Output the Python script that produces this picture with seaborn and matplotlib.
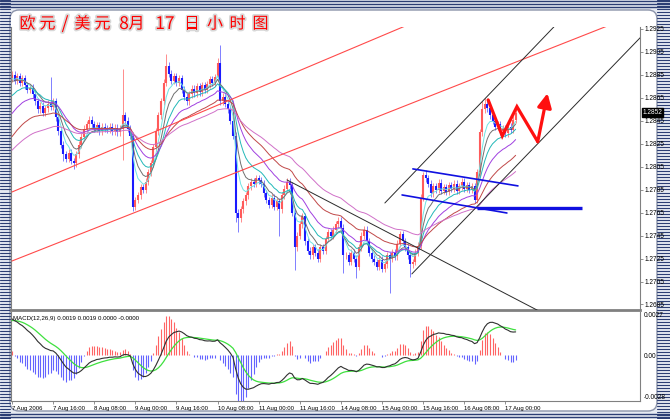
import numpy as np
import pandas as pd
import matplotlib
matplotlib.use("Agg")
import matplotlib.pyplot as plt
import seaborn as sns
from matplotlib.patches import FancyBboxPatch
import matplotlib.patheffects as pe
import matplotlib.transforms as mtrans

# ---------------- data (EUR/USD hourly) ----------------
close = [
    1.2885, 1.2880, 1.2884, 1.2878, 1.2882,
    1.2876, 1.2872, 1.2874, 1.2868,
    1.2862, 1.2855, 1.2858, 1.2852,
    1.2856, 1.2860, 1.2857, 1.2862,
    1.2848, 1.2836, 1.2824, 1.2816,
    1.2812, 1.2817, 1.2810, 1.2808,
    1.2816, 1.2824, 1.2831, 1.2838, 1.2842, 1.2846,
    1.2842, 1.2838, 1.2841, 1.2836, 1.2840, 1.2838,
    1.2837, 1.2840, 1.2836, 1.2839, 1.2835, 1.2838,
    1.2850,
    1.2845, 1.2838, 1.2832,
    1.2770,
    1.2776, 1.2780, 1.2787, 1.2785,
    1.2792, 1.2800, 1.2808,
    1.2822, 1.2836,
    1.2850, 1.2862,
    1.2878, 1.2893,
    1.2886, 1.2880, 1.2884, 1.2878, 1.2882,
    1.2872, 1.2866, 1.2862,
    1.2868, 1.2873, 1.2869, 1.2875, 1.2870, 1.2876, 1.2872,
    1.2877, 1.2881, 1.2878, 1.2883,
    1.2895,
    1.2862,
    1.2866, 1.2860, 1.2855,
    1.2845, 1.2832,
    1.2765,
    1.2760,
    1.2768, 1.2775, 1.2780, 1.2788,
    1.2792, 1.2790, 1.2795, 1.2793,
    1.2790,
    1.2782, 1.2776, 1.2772,
    1.2778, 1.2770, 1.2775, 1.2768,
    1.2780, 1.2786, 1.2792, 1.2789,
    1.2765, 1.2735,
    1.2745, 1.2755, 1.2762,
    1.2740, 1.2732, 1.2728, 1.2735,
    1.2730, 1.2725, 1.2735, 1.2732,
    1.2742, 1.2748, 1.2745, 1.2750,
    1.2755, 1.2758, 1.2752,
    1.2728,
    1.2728, 1.2722, 1.2730, 1.2725, 1.2718,
    1.2735, 1.2745, 1.2750,
    1.2740, 1.2730, 1.2725,
    1.2722, 1.2718, 1.2724, 1.2716, 1.2720,
    1.2728, 1.2725, 1.2730, 1.2727,
    1.2738, 1.2746, 1.2740, 1.2735,
    1.2728, 1.2720, 1.2722,
    1.2730, 1.2736,
    1.2778,
    1.2798, 1.2795,
    1.2790, 1.2782, 1.2788, 1.2785, 1.2791, 1.2784, 1.2787, 1.2783, 1.2789,
    1.2786, 1.2790, 1.2784, 1.2788, 1.2792, 1.2786, 1.2789, 1.2785, 1.2788,
    1.2776,
    1.2800, 1.2835, 1.2855,
    1.2860, 1.2856,
    1.2850, 1.2845, 1.2840, 1.2842, 1.2836,
    1.2838, 1.2834, 1.2840, 1.2837,
    1.2846, 1.2852,
]
first_open = 1.2882
wick = 0.0003
high_spikes = {15: 1.2883, 43: 1.2890, 60: 1.2903, 80: 1.2900, 81: 1.2911,
               160: 1.2800, 161: 1.2802, 183: 1.2862, 184: 1.2865}
low_spikes = {20: 1.2810, 24: 1.2803, 43: 1.2811, 47: 1.2766, 87: 1.2757,
              88: 1.2748, 104: 1.2745, 110: 1.2715, 129: 1.2712, 134: 1.2708,
              147: 1.2695, 155: 1.2709}

# moving-average ribbon: periods, starting values at left edge, colours
ma_periods = [5, 8, 13, 21, 34, 55]
ma_seeds = [1.2880, 1.2878, 1.2864, 1.2848, 1.2828, 1.2817]
ma_colors = ["#6fe3e3", "#707070", "#22b8b8", "#a040e0", "#c04848", "#d070c8"]

# MACD(12,26,9) starting states
macd_fast_seed, macd_slow_seed, macd_signal_seed = 1.2870, 1.2845, 0.0023
hist_scale = 2.4

price_ticks = [1.2685, 1.2705, 1.2725, 1.2745, 1.2765, 1.2785, 1.2805,
               1.2825, 1.2845, 1.2865, 1.2885, 1.2905, 1.2925]
last_price = 1.2852
date_pos = [0, 16, 32, 48, 64, 80, 96, 112, 128, 144, 160, 176, 192]
date_labels = ["7 Aug 2006", "7 Aug 16:00", "8 Aug 08:00", "9 Aug 00:00",
               "9 Aug 16:00", "10 Aug 08:00", "11 Aug 00:00", "11 Aug 16:00",
               "14 Aug 08:00", "15 Aug 00:00", "15 Aug 16:00", "16 Aug 08:00",
               "17 Aug 00:00"]

# drawn objects: anchor points (bar index, price)
red_upper = [(0, 1.27830), (152.1, 1.29267)]
red_lower = [(0, 1.27229), (230.7, 1.29267)]
chan_upper = [(145.1, 1.27734), (210.5, 1.29259)]
chan_lower = [(155.6, 1.27116), (244.4, 1.29172)]
desc_line = [(107.0, 1.27935), (204.3, 1.26802)]
flag_upper = [(156.0, 1.28031), (196.9, 1.27883)]
flag_lower = [(151.8, 1.27804), (192.6, 1.27647)]
support = [(180.9, 1.27691), (221.8, 1.27691)]
zig_i = [185.3, 190.8, 196.5, 204.6, 208.4]
zig_p = [1.28632, 1.28318, 1.28573, 1.28268, 1.28690]

title_parts = ["欧", "元", "/", "美", "元", "8", "月", "17", "日", "小", "时", "图"]
title_x = [27.5, 47.5, 65, 82.5, 102.5, 124, 136.5, 165, 192, 215, 237.5, 260.5]

# ---------------- derived ----------------
n = len(close)
idx = np.arange(n)
c = np.array(close)
o = np.concatenate([[first_open], c[:-1]])
hi = np.maximum(o, c) + wick
lo = np.minimum(o, c) - wick
for k, v in high_spikes.items():
    hi[k] = v
for k, v in low_spikes.items():
    lo[k] = v

def ema(vals, span, seed):
    return pd.Series([seed] + list(vals)).ewm(span=span, adjust=False).mean().values[1:]

mas = [ema(c, p, s) for p, s in zip(ma_periods, ma_seeds)]
macd_line = ema(c, 12, macd_fast_seed) - ema(c, 26, macd_slow_seed)
signal = ema(macd_line, 9, macd_signal_seed)
hist = (macd_line - signal) * hist_scale

# ---------------- figure ----------------
sns.set_theme(style="white")
plt.rcParams["font.family"] = ["Liberation Sans", "DejaVu Sans"]

W, H = 670, 419
fig = plt.figure(figsize=(6.7, 4.19), dpi=100)
fig.patch.set_facecolor("#e6eaf2")

def px_axes(x0, y0, x1, y1):
    return fig.add_axes([x0 / W, 1 - y1 / H, (x1 - x0) / W, (y1 - y0) / H])

bg = fig.add_axes([0, 0, 1, 1])
bg.set_xlim(0, W)
bg.set_ylim(H, 0)
bg.axis("off")
navy = "#2c3e74"
for y in np.arange(0.5, H, 3):
    bg.plot([0, 9.5], [y, y], color=navy, lw=0.8)
    bg.plot([657, W], [y, y], color=navy, lw=0.8)
for y in [1.0, 4.0, 7.0, 413.5, 416.5]:
    bg.plot([0, W], [y, y], color=navy, lw=1.0)
bg.add_patch(FancyBboxPatch((10, 10), 647, 401,
                            boxstyle="round,pad=0,rounding_size=9",
                            fc="white", ec="#8c94aa", lw=1.0))

main = px_axes(11, 27, 640, 310)
macd = px_axes(11, 312, 640, 401)
for ax in (main, macd):
    ax.set_facecolor("white")
    ax.set_xlim(-0.4, 244.4)
main.set_ylim(1.26802, 1.29267)
macd.set_ylim(-0.00307, 0.0029)

# candles
up = c >= o
col = np.where(up, "#ff5a5a", "#1a1aff")
wick_col = np.where(up, "#ff7a7a", "#6a6aff")
main.vlines(idx, lo, hi, colors=wick_col, lw=0.6, zorder=2)
body_lo = np.minimum(o, c)
body_hi = np.maximum(o, c)
thin = (body_hi - body_lo) < 0.00006
body_lo = np.where(thin, body_lo - 0.00003, body_lo)
body_hi = np.where(thin, body_hi + 0.00003, body_hi)
main.vlines(idx, body_lo, body_hi, colors=col, lw=1.5, zorder=2)

# moving averages
for ma, colr in zip(mas, ma_colors):
    sns.lineplot(x=idx, y=ma, ax=main, color=colr, linewidth=0.7, zorder=3, legend=False)

def ray(pts, x_end=300):
    (i1, p1), (i2, p2) = pts
    s = (p2 - p1) / (i2 - i1)
    return [i1, x_end], [p1, p1 + s * (x_end - i1)]

for pts in [red_upper, red_lower]:
    xs, ys = ray(pts)
    main.plot(xs, ys, color="#ff4a4a", lw=0.8, zorder=4)
for pts in [chan_upper, chan_lower, desc_line]:
    xs, ys = ray(pts)
    main.plot(xs, ys, color="#2a2a2a", lw=0.7, zorder=4)
for pts in [flag_upper, flag_lower]:
    main.plot([pts[0][0], pts[1][0]], [pts[0][1], pts[1][1]], color="#1010e0", lw=1.2, zorder=4)
main.plot([support[0][0], support[1][0]], [support[0][1], support[1][1]],
          color="#1010e0", lw=2.4, zorder=4, solid_capstyle="butt")

main.plot(zig_i[:-1], zig_p[:-1], color="#ff1010", lw=2.3, zorder=5, solid_joinstyle="miter")
main.annotate("", xy=(zig_i[-1], zig_p[-1]), xytext=(zig_i[-2], zig_p[-2]),
              arrowprops=dict(arrowstyle="-|>,head_length=0.7,head_width=0.35",
                              color="#ff1010", lw=2.3, shrinkA=0, shrinkB=0),
              zorder=5)

# MACD panel
hcol = np.where(hist >= 0, "#ff6464", "#6464ff")
macd.vlines(idx, 0, hist, colors=hcol, lw=0.8, zorder=2)
sns.lineplot(x=idx, y=signal, ax=macd, color="#3ee03e", linewidth=0.9, zorder=3, legend=False)
sns.lineplot(x=idx, y=macd_line, ax=macd, color="#303030", linewidth=0.8, zorder=4, legend=False)
macd.text(0.003, 0.93, "MACD(12,26,9) 0.0019 0.0019 0.0000 -0.0000",
          transform=macd.transAxes, fontsize=4.4, va="center", ha="left", color="black")

# axes styling
gray = "#808080"
for ax in (main, macd):
    for s in ax.spines.values():
        s.set_color(gray)
        s.set_linewidth(0.8)
    ax.spines["top"].set_visible(False)
main.spines["bottom"].set_linewidth(2.0)

main.yaxis.tick_right()
main.set_yticks(price_ticks)
main.set_yticklabels([f"{v:.4f}" for v in price_ticks])
main.set_xticks([])
main.tick_params(axis="y", which="both", direction="out", length=2, width=0.6,
                 color=gray, labelsize=4.7, pad=1.5, labelcolor="black", right=True, left=False)
main.set_xlabel("")
main.set_ylabel("")

blend = mtrans.blended_transform_factory(main.transAxes, main.transData)
main.text(1.004, last_price, f"{last_price:.4f}", transform=blend, fontsize=4.7,
          color="white", va="center", ha="left",
          bbox=dict(boxstyle="square,pad=0.15", fc="black", ec="black"), zorder=6, clip_on=False)

macd.yaxis.tick_right()
macd.set_yticks([0.0027, 0.0, -0.0028])
macd.set_yticklabels(["0.0027", "0.00", "-0.0028"])
macd.tick_params(axis="y", direction="out", length=0, labelsize=4.7, pad=2.5, labelcolor="black")
macd.set_xticks(date_pos)
macd.set_xticklabels(date_labels)
macd.tick_params(axis="x", direction="out", length=2.5, width=0.6, color=gray,
                 labelsize=4.3, pad=1.0, labelcolor="black", bottom=True)
for lbl in macd.get_xticklabels():
    lbl.set_ha("left")
macd.set_xlabel("")
macd.set_ylabel("")

# title
glow = [pe.withStroke(linewidth=2.5, foreground="#d8d8d8")]
for part, x in zip(title_parts, title_x):
    is_digit = part[0].isdigit() or part == "/"
    fig.text(x / W, 1 - 24 / H, part, ha="center", va="center",
             fontsize=12.5 if is_digit else 11.5, color="#ff0000",
             family=["Noto Sans CJK SC", "DejaVu Sans"], path_effects=glow, zorder=10)

fig.savefig("out.png", dpi=100, facecolor=fig.get_facecolor())
